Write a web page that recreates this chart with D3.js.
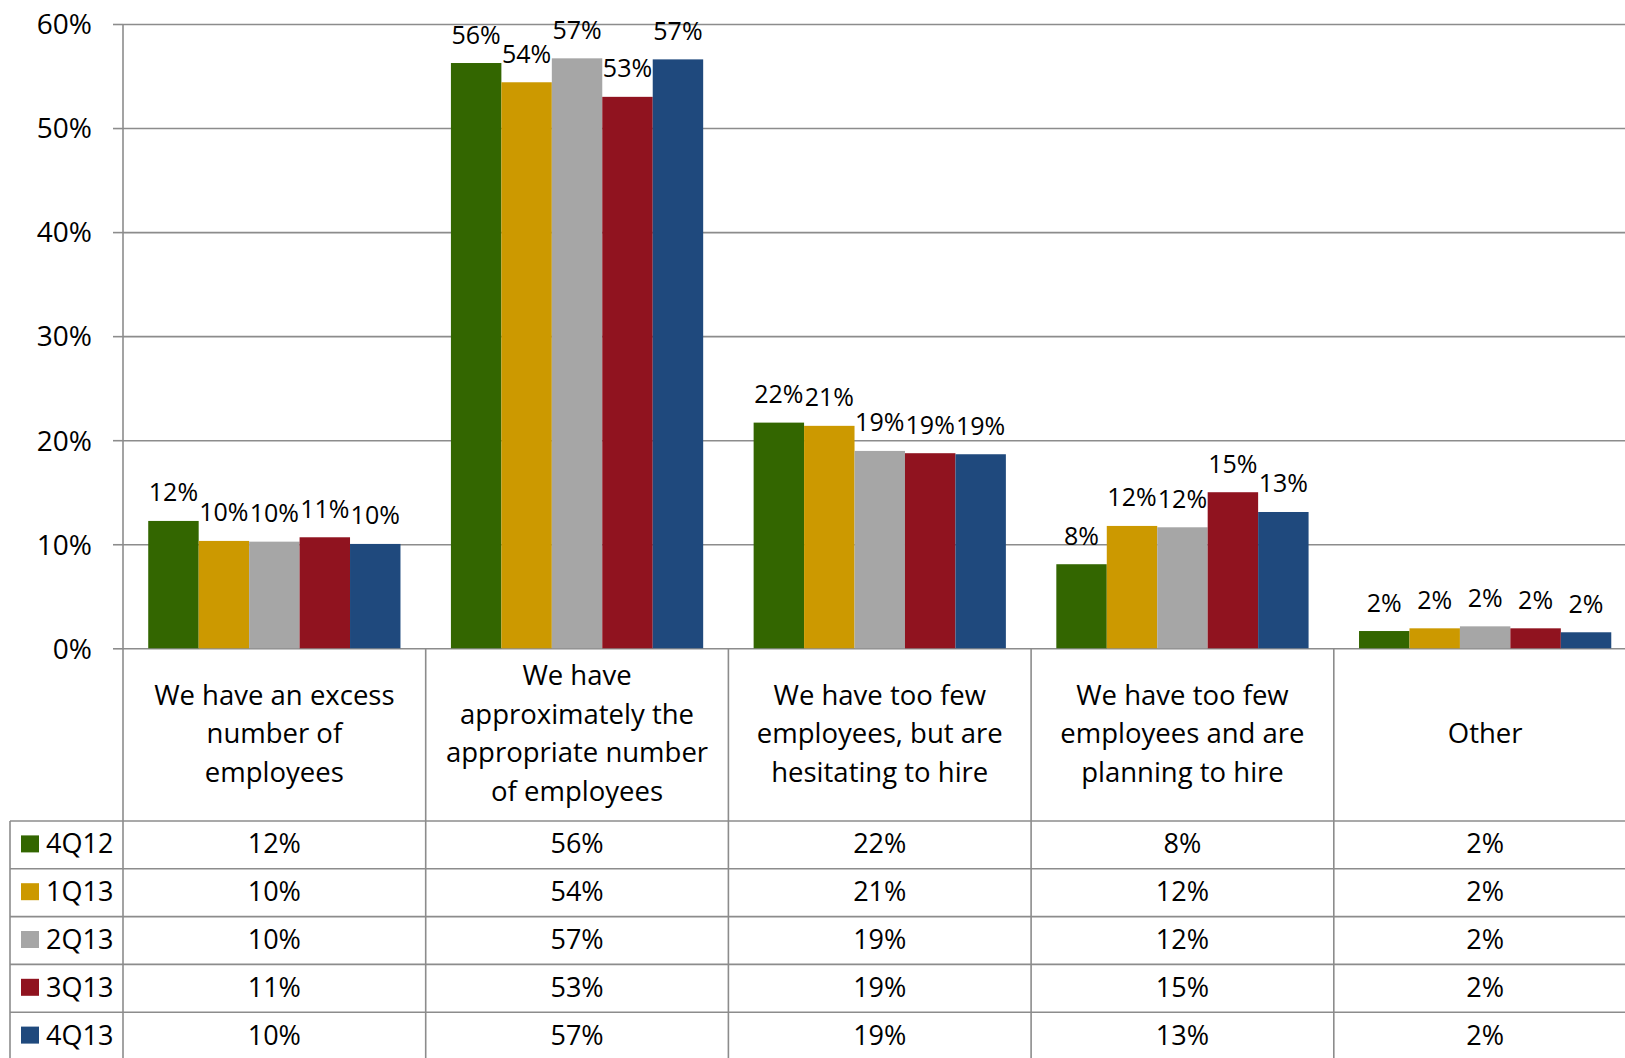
<!DOCTYPE html>
<html>
<head>
<meta charset="utf-8">
<script src="https://cdn.jsdelivr.net/npm/d3@7"></script>
<style>
  html, body { margin: 0; padding: 0; background: #fff; }
  svg { display: block; font-family: "Open Sans", sans-serif; }
</style>
</head>
<body>
<svg id="chart" width="1625" height="1058"></svg>
<script>
// ---- data ----
const categories = [
  "We have an excess\nnumber of\nemployees",
  "We have\napproximately the\nappropriate number\nof employees",
  "We have too few\nemployees, but are\nhesitating to hire",
  "We have too few\nemployees and are\nplanning to hire",
  "Other"
];
const seriesNames = ["4Q12", "1Q13", "2Q13", "3Q13", "4Q13"];
const seriesColors = ["#336600", "#CC9900", "#A6A6A6", "#90131F", "#1F497D"];
const v4Q12 = [0.1224, 0.5625, 0.2169, 0.0808, 0.0166];
const v1Q13 = [0.1032, 0.5440, 0.2138, 0.1176, 0.0192];
const v2Q13 = [0.1025, 0.5670, 0.1897, 0.1163, 0.0211];
const v3Q13 = [0.1067, 0.5300, 0.1875, 0.1500, 0.0192];
const v4Q13 = [0.1003, 0.5660, 0.1865, 0.1310, 0.0154];
const seriesValues = [v4Q12, v1Q13, v2Q13, v3Q13, v4Q13];
const yTicks = [0, 0.1, 0.2, 0.3, 0.4, 0.5, 0.6];

// ---- layout ----
const svg = d3.select("#chart");
const axisX = 123, plotTop = 24, plotBottom = 648.3, plotRight = 1636.5;
const tableLeft = 10, tableTop = 821, rowH = 47.8;
const gridColor = "#8c8c8c";

const x = d3.scaleBand().domain(d3.range(categories.length)).range([axisX, plotRight]).padding(0);
const bw = x.bandwidth();
const xs = d3.scaleBand().domain(d3.range(seriesNames.length)).range([bw / 12, bw * 11 / 12]).padding(0);
const y = d3.scaleLinear().domain([0, 0.6]).range([plotBottom, plotTop]);
const pct = d3.format(".0%");

// gridlines + ticks
const yAxis = d3.axisLeft(y).tickValues(yTicks).tickFormat(pct).tickSize(-(plotRight - axisX)).tickPadding(31);
const gy = svg.append("g").attr("transform", `translate(${axisX},0)`).call(yAxis);
gy.select(".domain").remove();
gy.selectAll(".tick line").attr("stroke", gridColor).attr("stroke-width", 1.6);
gy.selectAll(".tick").append("line").attr("x1", -10).attr("x2", 0).attr("stroke", gridColor).attr("stroke-width", 1.6);
gy.selectAll(".tick text").attr("font-size", 28).attr("fill", "#000").attr("font-family", "Open Sans").attr("dy", "0.35em");

// bars
const groups = svg.append("g").selectAll("g").data(categories).join("g")
  .attr("transform", (d, i) => `translate(${x(i)},0)`);
groups.each(function (c, ci) {
  const g = d3.select(this);
  seriesValues.forEach((vals, si) => {
    g.append("rect")
      .attr("x", xs(si)).attr("width", xs.bandwidth())
      .attr("y", y(vals[ci])).attr("height", y(0) - y(vals[ci]))
      .attr("fill", seriesColors[si]);
  });
  seriesValues.forEach((vals, si) => {
    g.append("text")
      .attr("x", xs(si) + xs.bandwidth() / 2)
      .attr("y", y(vals[ci]) - 19.5)
      .attr("text-anchor", "middle").attr("font-size", 25).attr("fill", "#000")
      .text(pct(vals[ci]));
  });
});

// y axis line
svg.append("line").attr("x1", axisX).attr("x2", axisX).attr("y1", plotTop).attr("y2", 1058)
  .attr("stroke", gridColor).attr("stroke-width", 1.6);

// vertical category dividers (header + table)
d3.range(1, categories.length + 1).forEach(i => {
  svg.append("line").attr("x1", x(i - 1) + bw).attr("x2", x(i - 1) + bw)
    .attr("y1", plotBottom).attr("y2", 1058).attr("stroke", gridColor).attr("stroke-width", 1.6);
});
// table left edge
svg.append("line").attr("x1", tableLeft).attr("x2", tableLeft).attr("y1", tableTop).attr("y2", 1058)
  .attr("stroke", gridColor).attr("stroke-width", 1.6);
// table row lines
d3.range(seriesNames.length + 1).forEach(r => {
  const yy = tableTop + r * rowH;
  svg.append("line").attr("x1", tableLeft).attr("x2", plotRight).attr("y1", yy).attr("y2", yy)
    .attr("stroke", gridColor).attr("stroke-width", 1.6);
});

// category labels
const headerMid = (plotBottom + tableTop) / 2;
const lh = 38.5;
categories.forEach((c, i) => {
  const lines = c.split("\n");
  const t = svg.append("text").attr("text-anchor", "middle").attr("font-size", 27.5).attr("fill", "#000");
  lines.forEach((ln, k) => {
    t.append("tspan").attr("x", x(i) + bw / 2)
      .attr("y", headerMid - (lines.length - 1) / 2 * lh + 8.5 + k * lh).text(ln);
  });
});

// table rows
seriesNames.forEach((s, r) => {
  const cy = tableTop + rowH * (r + 0.5);
  svg.append("rect").attr("x", 21).attr("y", cy - 9.5).attr("width", 18).attr("height", 17)
    .attr("fill", seriesColors[r]);
  svg.append("text").attr("x", 46).attr("y", cy + 8.5).attr("font-size", 27).attr("fill", "#000").text(s);
  seriesValues[r].forEach((v, ci) => {
    svg.append("text").attr("x", x(ci) + bw / 2).attr("y", cy + 8.5)
      .attr("text-anchor", "middle").attr("font-size", 27).attr("fill", "#000").text(pct(v));
  });
});
</script>
</body>
</html>
